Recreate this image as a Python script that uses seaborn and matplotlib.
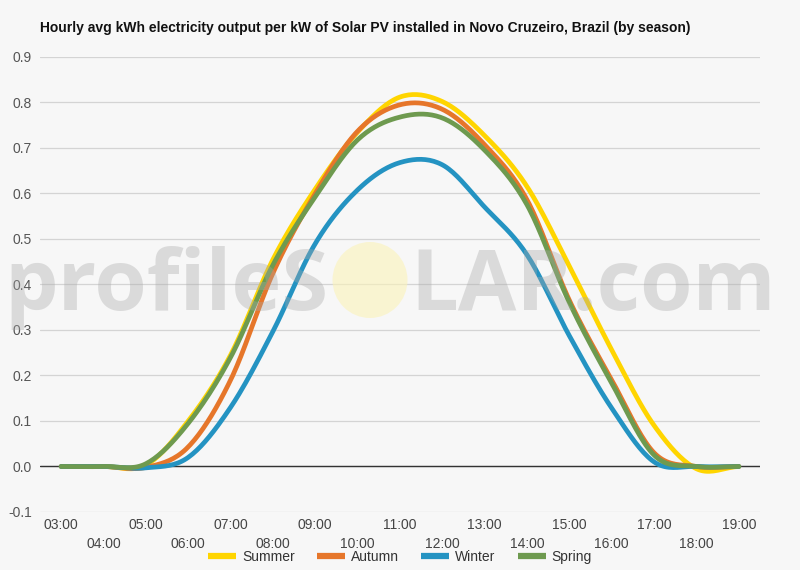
import numpy as np
import pandas as pd
import seaborn as sns
import matplotlib
matplotlib.use("Agg")
import matplotlib.pyplot as plt
from matplotlib.patches import Ellipse
from matplotlib.lines import Line2D

# Hourly values
hours = ["03:00", "04:00", "05:00", "06:00", "07:00", "08:00", "09:00", "10:00", "11:00",
         "12:00", "13:00", "14:00", "15:00", "16:00", "17:00", "18:00", "19:00"]
summer = [0, 0, 0.003, 0.10, 0.245, 0.455, 0.61, 0.735, 0.812, 0.802, 0.727, 0.615, 0.44, 0.256, 0.09, -0.005, 0]
autumn = [0, 0, -0.002, 0.043, 0.19, 0.425, 0.60, 0.737, 0.795, 0.785, 0.707, 0.586, 0.365, 0.19, 0.03, 0, 0]
winter = [0, 0, -0.003, 0.02, 0.13, 0.297, 0.49, 0.608, 0.668, 0.663, 0.57, 0.465, 0.287, 0.128, 0.01, 0, 0]
spring = [0, 0, 0.006, 0.095, 0.24, 0.443, 0.593, 0.718, 0.768, 0.766, 0.695, 0.575, 0.36, 0.183, 0.025, 0, 0]

seasons = ["Summer", "Autumn", "Winter", "Spring"]
colors = ["#FFD500", "#E6762A", "#2493C2", "#6E9A4F"]
series = [summer, autumn, winter, spring]


def spline(y, n=20):
    # catmull-rom, like the spline line type of the original chart
    y = np.asarray(y, dtype=float)
    p = np.concatenate([[y[0]], y, [y[-1]]])
    xs, ys = [], []
    t = np.linspace(0, 1, n, endpoint=False)
    for i in range(len(y) - 1):
        p0, p1, p2, p3 = p[i], p[i + 1], p[i + 2], p[i + 3]
        seg = 0.5 * ((2 * p1) + (-p0 + p2) * t + (2 * p0 - 5 * p1 + 4 * p2 - p3) * t ** 2
                     + (-p0 + 3 * p1 - 3 * p2 + p3) * t ** 3)
        xs.append(i + t)
        ys.append(seg)
    xs.append([len(y) - 1])
    ys.append([y[-1]])
    return np.concatenate(xs), np.concatenate(ys)


frames = []
for name, vals in zip(seasons, series):
    sx, sy = spline(vals)
    frames.append(pd.DataFrame({"x": sx, "value": sy, "season": name}))
df = pd.concat(frames, ignore_index=True)

bg = "#f7f7f7"
sns.set_theme(style="whitegrid")
plt.rcParams["font.family"] = ["Liberation Sans", "DejaVu Sans"]

fig = plt.figure(figsize=(8, 5.7), dpi=100, facecolor=bg)
ax = fig.add_axes([0.05, 0.1018, 0.9, 0.7982])
ax.set_facecolor(bg)

sns.lineplot(data=df, x="x", y="value", hue="season", hue_order=seasons, palette=colors,
             linewidth=3.4, estimator=None, sort=False, legend=False, ax=ax)

ax.set_xlim(-0.5, len(hours) - 0.5)
ax.set_ylim(-0.1, 0.9)
ax.set_yticks(np.arange(-0.1, 0.91, 0.1))
ax.set_yticklabels([f"{v:.1f}" for v in np.arange(-0.1, 0.91, 0.1)])
ax.axhline(0, color="#333333", lw=1, zorder=1.5)

idx = np.arange(len(hours))
ax.set_xticks(idx[::2], [hours[i] for i in idx[::2]])
ax.set_xticks(idx[1::2], [hours[i] for i in idx[1::2]], minor=True)
ax.tick_params(axis="x", which="major", length=0, pad=4, labelsize=10, labelcolor="#444444")
ax.tick_params(axis="x", which="minor", length=0, pad=18, labelsize=10, labelcolor="#444444")
ax.tick_params(axis="y", length=0, pad=6, labelsize=10, labelcolor="#555555")
ax.grid(axis="x", visible=False)
ax.grid(axis="x", which="minor", visible=False)
ax.grid(axis="y", color="#d4d4d4", lw=0.9)
for s in ax.spines.values():
    s.set_visible(False)
ax.set_xlabel("")
ax.set_ylabel("")

fig.text(40 / 800, 1 - 28 / 570,
         "Hourly avg kWh electricity output per kW of Solar PV installed in Novo Cruzeiro, Brazil (by season)",
         fontsize=10, fontweight="bold", color="#111111", va="center", ha="left")

handles = [Line2D([0], [0], color=c, lw=4.5, solid_capstyle="butt") for c in colors]
fig.legend(handles, seasons, loc="center", bbox_to_anchor=(0.5, 1 - 557 / 570), ncol=4, frameon=False,
           fontsize=10, handlelength=2.0, columnspacing=1.6, handletextpad=0.45, labelcolor="#333333")

# watermark
wm = dict(fontsize=61, fontweight="bold", family="Open Sans", color="#a8a8a8", alpha=0.36, va="baseline")
fig.text(4 / 800, 1 - 310 / 570, "profileS", ha="left", **wm)
fig.text(410 / 800, 1 - 310 / 570, "LAR.com", ha="left", **wm)
fig.add_artist(Ellipse((3.70, 5.7 - 2.80), 0.75, 0.76, transform=fig.dpi_scale_trans,
                       facecolor="#fbf3b8", alpha=0.6, edgecolor="none"))

fig.savefig("out.png", dpi=100, facecolor=bg)
